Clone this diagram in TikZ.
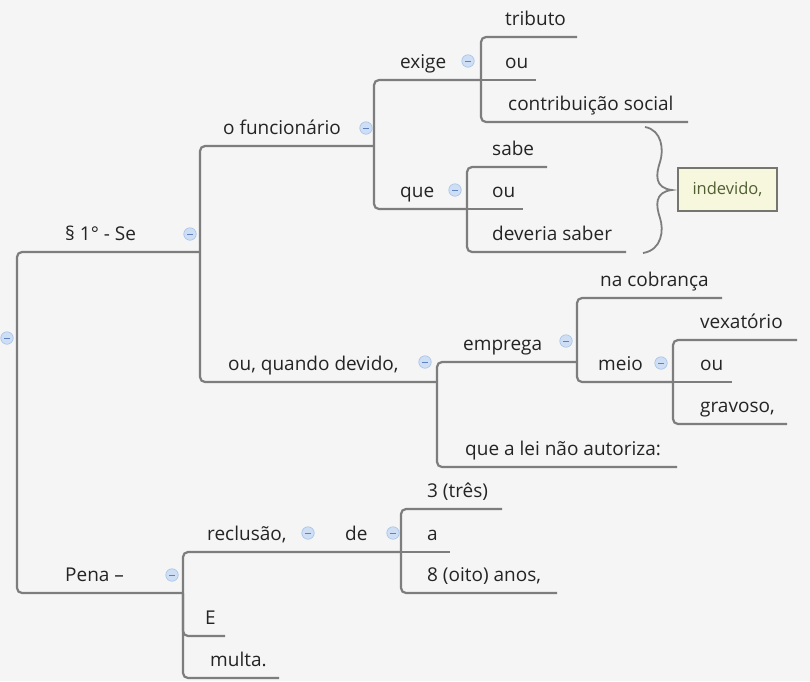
\documentclass[tikz,border=0pt]{standalone}
\usepackage{fontspec}
\setmainfont{Open Sans}
\usetikzlibrary{positioning}
\definecolor{bgcol}{RGB}{245,245,245}
\definecolor{linecol}{RGB}{125,125,125}
\definecolor{iconfill}{RGB}{205,222,245}
\definecolor{iconline}{RGB}{165,192,230}
\definecolor{iconbar}{RGB}{95,130,190}
\definecolor{notefill}{RGB}{247,247,222}
\definecolor{noteline}{RGB}{118,118,112}
\definecolor{notetext}{RGB}{80,94,50}
\definecolor{txt}{RGB}{36,36,36}

\begin{document}
\begin{tikzpicture}[x=1pt,y=-1pt,
    branch/.style={draw=linecol, line width=2.2pt, rounded corners=5pt},
    topic/.style={anchor=base west, inner sep=0pt, text=txt, font=\fontsize{19}{22}\selectfont},
    fold/.style={circle, draw=iconline, fill=iconfill, line width=0.6pt, minimum size=12.5pt, inner sep=0pt,
        path picture={\draw[iconbar, line width=0.8pt]
            ([xshift=-2.8pt]path picture bounding box.center) -- ([xshift=2.8pt]path picture bounding box.center);}},
    note/.style={draw=noteline, fill=notefill, line width=1.5pt, minimum width=99pt, minimum height=43pt,
        inner sep=0pt, text=notetext, font=\fontsize{16.5}{20}\selectfont}
]
    % Background
    \fill[bgcol] (0,0) rectangle (810,681);
    \useasboundingbox (0,0) rectangle (810,681);

    % Junctions (line ends)
    \coordinate (root) at (17,338);
    \coordinate (se) at (200,252);
    \coordinate (func) at (374,146);
    \coordinate (exige) at (481,80);
    \coordinate (trib) at (577,37);
    \coordinate (ou1) at (536,80);
    \coordinate (contrib) at (688,122);
    \coordinate (que) at (467,209);
    \coordinate (sabe) at (547,167);
    \coordinate (ou2) at (523,209);
    \coordinate (dev) at (626,252);
    \coordinate (quando) at (437,382);
    \coordinate (emprega) at (577,362);
    \coordinate (cobr) at (722,298);
    \coordinate (meio) at (673,382);
    \coordinate (vex) at (797,340);
    \coordinate (ou3) at (732,382);
    \coordinate (grav) at (787,424);
    \coordinate (lei) at (677,467);
    \coordinate (pena) at (183,593);
    \coordinate (recl) at (330,552);
    \coordinate (de) at (401,552);
    \coordinate (tres) at (502,509);
    \coordinate (a) at (450,552);
    \coordinate (oito) at (557,593);
    \coordinate (E) at (225,636);
    \coordinate (multa) at (279,678);

    % Branches
    \draw[branch] (root) |- (se);
    \draw[branch] (root) |- (pena);
    \draw[branch] (se) |- (func);
    \draw[branch] (se) |- (quando);
    \draw[branch] (func) |- (exige);
    \draw[branch] (func) |- (que);
    \draw[branch] (exige) |- (trib);
    \draw[branch] (exige) -- (ou1);
    \draw[branch] (exige) |- (contrib);
    \draw[branch] (que) |- (sabe);
    \draw[branch] (que) -- (ou2);
    \draw[branch] (que) |- (dev);
    \draw[branch] (quando) |- (emprega);
    \draw[branch] (quando) |- (lei);
    \draw[branch] (emprega) |- (cobr);
    \draw[branch] (emprega) |- (meio);
    \draw[branch] (meio) |- (vex);
    \draw[branch] (meio) -- (ou3);
    \draw[branch] (meio) |- (grav);
    \draw[branch] (pena) |- (recl) -- (de);
    \draw[branch] (de) |- (tres);
    \draw[branch] (de) -- (a);
    \draw[branch] (de) |- (oito);
    \draw[branch] (pena) |- (E);
    \draw[branch] (pena) |- (multa);

    % Labels
    \node[topic] (t-se) at (65,240.5) {§ 1° - Se};
    \node[topic] (t-func) at (223,134.5) {o funcionário};
    \node[topic] (t-exige) at (400,68.5) {exige};
    \node[topic] (t-trib) at (505,25.5) {tributo};
    \node[topic] (t-ou1) at (505,68.5) {ou};
    \node[topic] (t-contrib) at (508,110.5) {contribuição social};
    \node[topic] (t-que) at (400,197.5) {que};
    \node[topic] (t-sabe) at (492,155.5) {sabe};
    \node[topic] (t-ou2) at (492,197.5) {ou};
    \node[topic] (t-dev) at (492,240.5) {deveria saber};
    \node[topic] (t-quando) at (228,370.5) {ou, quando devido,};
    \node[topic] (t-emprega) at (463,350.5) {emprega};
    \node[topic] (t-cobr) at (600,286.5) {na cobrança};
    \node[topic] (t-meio) at (598,370.5) {meio};
    \node[topic] (t-vex) at (700,328.5) {vexatório};
    \node[topic] (t-ou3) at (700,370.5) {ou};
    \node[topic] (t-grav) at (700,412.5) {gravoso,};
    \node[topic] (t-lei) at (465,455.5) {que a lei não autoriza:};
    \node[topic] (t-pena) at (65,581.5) {Pena –};
    \node[topic] (t-recl) at (207,540.5) {reclusão,};
    \node[topic] (t-de) at (345,540.5) {de};
    \node[topic] (t-tres) at (427,497.5) {3 (três)};
    \node[topic] (t-a) at (427,540.5) {a};
    \node[topic] (t-oito) at (427,581.5) {8 (oito) anos,};
    \node[topic] (t-E) at (205,624.5) {E};
    \node[topic] (t-multa) at (210,666.5) {multa.};

    % Fold icons
    \node[fold] (f-root) at (7,338) {};
    \node[fold] (f-se) at (190,234) {};
    \node[fold] (f-func) at (366,128) {};
    \node[fold] (f-exige) at (468,61) {};
    \node[fold] (f-que) at (455,190) {};
    \node[fold] (f-quando) at (425,362) {};
    \node[fold] (f-emprega) at (566,341) {};
    \node[fold] (f-meio) at (661,363) {};
    \node[fold] (f-pena) at (172,575) {};
    \node[fold] (f-recl) at (308,533) {};
    \node[fold] (f-de) at (393,533) {};

    % Brace and note
    \draw[linecol, line width=1.8pt] (645,127) .. controls (662,130) and (664,150) .. (660,162)
        .. controls (656,174) and (654,188) .. (672,190)
        .. controls (654,192) and (656,206) .. (660,218)
        .. controls (664,230) and (662,250) .. (643,253);
    \node[note] (indev) at (727.5,189.5) {indevido,};
\end{tikzpicture}
\end{document}
